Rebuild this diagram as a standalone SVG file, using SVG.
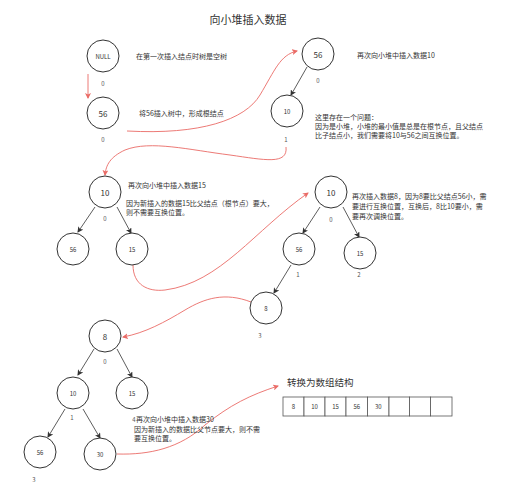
<svg xmlns="http://www.w3.org/2000/svg" width="509" height="500" viewBox="0 0 509 500">
<style>
text{font-family:"Noto Sans CJK SC","Liberation Sans",sans-serif;fill:#333}
.n circle{fill:#fff;stroke:#333;stroke-width:1}
.big{font-size:8px;text-anchor:middle;dominant-baseline:central}
.sm{font-size:6px;text-anchor:middle;dominant-baseline:central}
.idx{font-size:6px;text-anchor:middle;fill:#555}
.note{font-size:7px}
.blk{stroke:#333;stroke-width:0.8;fill:none;marker-end:url(#ab)}
.red{stroke:#ea6b66;stroke-width:0.9;fill:none;marker-end:url(#ar)}
.cell{fill:#fff;stroke:#555;stroke-width:0.8}
</style>
<defs>
<marker id="ab" markerWidth="6" markerHeight="6" refX="5" refY="3" orient="auto" markerUnits="userSpaceOnUse"><path d="M0,0 L6,3 L0,6 L1.5,3 z" fill="#333"/></marker>
<marker id="ar" markerWidth="6" markerHeight="6" refX="5" refY="3" orient="auto" markerUnits="userSpaceOnUse"><path d="M0,0 L6,3 L0,6 L1.5,3 z" fill="#ea6b66"/></marker>
</defs>
<rect width="509" height="500" fill="#fff"/>
<text x="248" y="24" style="font-size:11px;text-anchor:middle">向小堆插入数据</text>

<g id="connectors">
<line class="red" x1="88" y1="74" x2="88" y2="98"/>
<path class="red" d="M127,131 C200,135 245,120 260,95 C275,70 280,55 297,51"/>
<line class="blk" x1="307" y1="67" x2="291" y2="95"/>
<path class="red" d="M286,147 C288,165 265,160 230,155 C190,150 150,140 125,150 C110,157 106,165 105,175"/>
<line class="blk" x1="95" y1="207" x2="78" y2="232"/>
<line class="blk" x1="117" y1="207" x2="131" y2="233"/>
<path class="red" d="M133,265 C133,285 148,292 165,290 C220,283 255,230 308,193"/>
<line class="blk" x1="320" y1="207" x2="303" y2="233"/>
<line class="blk" x1="343" y1="207" x2="359" y2="237"/>
<line class="blk" x1="291" y1="265" x2="274" y2="293"/>
<path class="red" d="M251,302 C225,292 205,298 185,310 C165,322 145,333 123,337"/>
<line class="blk" x1="94" y1="349" x2="78" y2="375"/>
<line class="blk" x1="117" y1="349" x2="132" y2="377"/>
<line class="blk" x1="65" y1="409" x2="48" y2="437"/>
<line class="blk" x1="83" y1="409" x2="100" y2="438"/>
<path class="red" d="M117,454 C150,455 180,448 205,425 C230,405 250,395 278,386"/>
</g>

<g id="n-null" class="n"><circle cx="103" cy="56" r="16"/><text class="sm" x="103" y="56">NULL</text><text class="idx" x="103" y="86">0</text></g>
<text class="note" x="136" y="59">在第一次插入结点时树是空树</text>

<g id="n-56a" class="n"><circle cx="103" cy="113" r="16"/><text class="big" x="103" y="113">56</text><text class="idx" x="103" y="142">0</text></g>
<text class="note" x="139" y="116">将56插入树中，形成根结点</text>

<g id="n-56b" class="n"><circle cx="318" cy="54" r="16"/><text class="big" x="318" y="54">56</text><text class="idx" x="318" y="83">0</text></g>
<text class="note" x="357" y="58">再次向小堆中插入数据10</text>
<g id="n-10b" class="n"><circle cx="287" cy="111" r="16"/><text class="sm" x="287" y="111">10</text><text class="idx" x="286" y="142">1</text></g>
<text class="note" x="315" y="120">这里存在一个问题：</text>
<text class="note" x="315" y="129">因为是小堆，小堆的最小值是总是在根节点，且父结点</text>
<text class="note" x="315" y="138">比子结点小，我们需要将10与56之间互换位置。</text>

<g id="n-10c" class="n"><circle cx="105" cy="192" r="16"/><text class="big" x="105" y="192">10</text><text class="idx" x="105" y="221">0</text></g>
<g id="n-56c" class="n"><circle cx="73" cy="249" r="16"/><text class="sm" x="73" y="249">56</text></g>
<g id="n-15c" class="n"><circle cx="132" cy="249" r="16"/><text class="sm" x="132" y="249">15</text></g>
<text class="note" x="128" y="188">再次向小堆中插入数据15</text>
<text class="note" x="126" y="206">因为新插入的数据15比父结点（根节点）要大，</text>
<text class="note" x="126" y="215">则不需要互换位置。</text>

<g id="n-10d" class="n"><circle cx="331" cy="192" r="16"/><text class="big" x="331" y="192">10</text><text class="idx" x="331" y="222">0</text></g>
<g id="n-56d" class="n"><circle cx="299" cy="249" r="16"/><text class="sm" x="299" y="249">56</text><text class="idx" x="298" y="277">1</text></g>
<g id="n-15d" class="n"><circle cx="360" cy="253" r="16"/><text class="sm" x="360" y="253">15</text><text class="idx" x="359" y="277">2</text></g>
<g id="n-8d" class="n"><circle cx="266" cy="308" r="16"/><text class="sm" x="266" y="308">8</text><text class="idx" x="260" y="338">3</text></g>
<text class="note" x="352" y="199">再次插入数据8，因为8要比父结点56小，需</text>
<text class="note" x="352" y="209">要进行互换位置，互换后，8比10要小，需</text>
<text class="note" x="352" y="219">要再次调换位置。</text>

<g id="n-8e" class="n"><circle cx="105" cy="336" r="16"/><text class="big" x="105" y="336">8</text><text class="idx" x="105" y="364">0</text></g>
<g id="n-10e" class="n"><circle cx="73" cy="393" r="16"/><text class="sm" x="73" y="393">10</text><text class="idx" x="72" y="420">1</text></g>
<g id="n-15e" class="n"><circle cx="132" cy="393" r="16"/><text class="sm" x="132" y="393">15</text></g>
<g id="n-56e" class="n"><circle cx="40" cy="452" r="16"/><text class="sm" x="40" y="452">56</text><text class="idx" x="34" y="482">3</text></g>
<g id="n-30e" class="n"><circle cx="100" cy="454" r="16"/><text class="sm" x="100" y="454">30</text><text class="idx" x="134" y="422">4</text></g>
<text class="note" x="136" y="422">再次向小堆中插入数据30</text>
<text class="note" x="134" y="432">因为新插入的数据比父节点要大，则不需</text>
<text class="note" x="134" y="441">要互换位置。</text>

<text x="287" y="386" style="font-size:9.5px">转换为数组结构</text>
<g id="array">
<rect class="cell" x="283" y="397" width="21" height="19"/>
<rect class="cell" x="304" y="397" width="21" height="19"/>
<rect class="cell" x="325" y="397" width="21" height="19"/>
<rect class="cell" x="346" y="397" width="21.5" height="19"/>
<rect class="cell" x="367.5" y="397" width="21.5" height="19"/>
<rect class="cell" x="389" y="397" width="20.5" height="19"/>
<rect class="cell" x="409.5" y="397" width="21" height="19"/>
<rect class="cell" x="430.5" y="397" width="21.5" height="19"/>
<text class="sm" x="293.5" y="406.5">8</text>
<text class="sm" x="314.5" y="406.5">10</text>
<text class="sm" x="335.5" y="406.5">15</text>
<text class="sm" x="356.8" y="406.5">56</text>
<text class="sm" x="378.3" y="406.5">30</text>
</g>
</svg>
